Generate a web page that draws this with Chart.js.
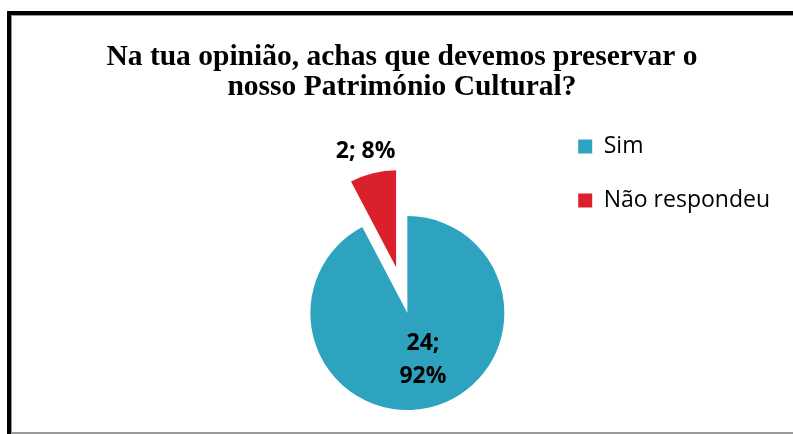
<!DOCTYPE html>
<html>
<head>
<meta charset="utf-8">
<script src="https://cdn.jsdelivr.net/npm/chart.js@4.4.1/dist/chart.umd.min.js"></script>
<style>
html, body { margin: 0; padding: 0; background: #ffffff; overflow: hidden; }
#wrap { position: relative; width: 793px; height: 434px; overflow: hidden; background: #ffffff; }
#c { position: absolute; left: 14px; top: 0; }
.f { position: absolute; }
</style>
</head>
<body>
<div id="wrap">
  <canvas id="c" width="776" height="522" style="width:776px;height:522px"></canvas>
  <div class="f" style="left:7px;top:11px;width:4px;height:423px;background:#000"></div>
  <div class="f" style="left:7px;top:11px;width:786px;height:4px;background:#000"></div>
  <div class="f" style="left:11px;top:15px;width:1px;height:418px;background:#9a9a9a"></div>
  <div class="f" style="left:11px;top:15px;width:782px;height:1px;background:#9a9a9a"></div>
  <div class="f" style="left:11px;top:432px;width:782px;height:2px;background:#9a9a9a"></div>
</div>
<script>
// ---- data ----
const categories = ['Sim', 'Não respondeu'];
const counts = [24, 2];
const sliceColors = ['#2EA3BF', '#D9202B'];
const titleLines = ['Na tua opinião, achas que devemos preservar o', 'nosso Património Cultural?'];

// ---- styling constants ----
const LEFT_GUTTER = 253.5;
const RIGHT_GUTTER = 10;
const PIE_RADIUS = 97;
const EXPLODE = [0, 47];

// empty spacer boxes so the pie and legend sit where the reference has them
function makeSpacer(position, weight, size) {
  return {
    position, weight, fullSize: false, options: { display: false },
    left: 0, top: 0, right: 0, bottom: 0, width: 0, height: 0,
    isHorizontal() { return false; },
    update(maxWidth, maxHeight) { this.width = size; this.height = maxHeight; },
    draw() {}
  };
}
const gutters = {
  id: 'gutters',
  beforeInit(chart) {
    Chart.layouts.addBox(chart, makeSpacer('left', 0, LEFT_GUTTER));
    Chart.layouts.addBox(chart, makeSpacer('right', 3000, RIGHT_GUTTER));
  }
};

// pull slices out from the centre along their mid angle
const explodeSlices = {
  id: 'explodeSlices',
  afterDatasetsUpdate(chart) {
    const meta = chart.getDatasetMeta(0);
    meta.data.forEach((arc, i) => {
      const d = EXPLODE[i] || 0;
      if (!d) return;
      const mid = (arc.startAngle + arc.endAngle) / 2;
      arc.x += Math.cos(mid) * d;
      arc.y += Math.sin(mid) * d;
    });
  }
};

// "value; percent" labels
const sliceLabels = {
  id: 'sliceLabels',
  afterDatasetsDraw(chart) {
    const meta = chart.getDatasetMeta(0);
    const ctx = chart.ctx;
    const total = counts.reduce((a, b) => a + b, 0);
    ctx.save();
    ctx.font = 'bold 23px "Open Sans"';
    ctx.fillStyle = '#000000';
    ctx.textAlign = 'center';
    ctx.textBaseline = 'middle';
    meta.data.forEach((arc, i) => {
      const v = counts[i];
      const pct = Math.round(v / total * 100);
      const inside = i === 0;
      const lines = inside ? [v + ';', pct + '%'] : [v + '; ' + pct + '%'];
      const mid = (arc.startAngle + arc.endAngle) / 2;
      const dist = inside ? arc.outerRadius * 0.5 : arc.outerRadius + 22;
      const cx = arc.x + Math.cos(mid) * dist + (inside ? 4 : -2);
      const cy = arc.y + Math.sin(mid) * dist;
      const lh = 33;
      lines.forEach((t, k) => ctx.fillText(t, cx, cy + (k - (lines.length - 1) / 2) * lh));
    });
    ctx.restore();
  }
};

new Chart(document.getElementById('c'), {
  type: 'pie',
  data: {
    labels: categories,
    datasets: [{
      data: counts,
      backgroundColor: sliceColors,
      borderWidth: 0
    }]
  },
  options: {
    responsive: false,
    animation: false,
    radius: PIE_RADIUS,
    layout: { padding: 0 },
    plugins: {
      title: {
        display: true,
        text: titleLines,
        color: '#000000',
        font: { family: '"Liberation Serif", "Times New Roman", serif', size: 29.5, weight: 'bold', lineHeight: '30px' },
        padding: { top: 42, bottom: 2 }
      },
      legend: {
        display: true,
        position: 'right',
        align: 'start',
        fullSize: false,
        labels: {
          color: '#000000',
          font: { family: '"Open Sans"', size: 23 },
          boxWidth: 14,
          boxHeight: 14,
          padding: 31
        }
      },
      tooltip: { enabled: false }
    }
  },
  plugins: [gutters, explodeSlices, sliceLabels]
});
</script>
</body>
</html>
